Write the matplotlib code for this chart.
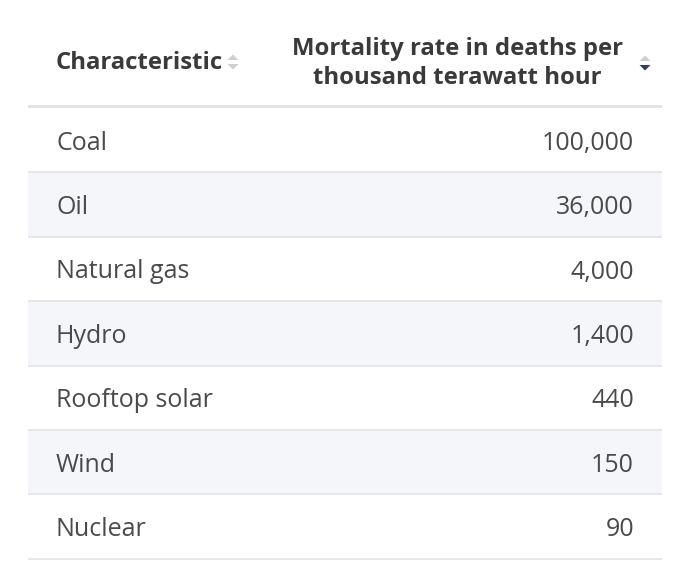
import matplotlib
matplotlib.use("Agg")
import matplotlib.pyplot as plt
from matplotlib.patches import Rectangle, Polygon

categories = ["Coal", "Oil", "Natural gas", "Hydro", "Rooftop solar", "Wind", "Nuclear"]
values = [100000, 36000, 4000, 1400, 440, 150, 90]
col_headers = ["Characteristic", "Mortality rate in deaths per\nthousand terawatt hour"]

W, H = 690, 587
fig = plt.figure(figsize=(W / 100, H / 100), dpi=100)
ax = fig.add_axes([0, 0, 1, 1])
ax.set_xlim(0, W)
ax.set_ylim(H, 0)
ax.axis("off")

FONT = "Open Sans"
text_c = "#4a4a4a"
head_c = "#3a3a3a"
left, right = 28, 662
top = 108
row_h = 64.4

# header
ax.text(56, 63, col_headers[0], fontsize=17.2, fontweight="bold", color=head_c,
        family=FONT, va="center", ha="left")
ax.text(457, 63.5, col_headers[1], fontsize=17.2, fontweight="bold", color=head_c,
        family=FONT, va="center", ha="center", linespacing=1.24)

def sort_icon(x, y, up_c, down_c):
    ax.add_patch(Polygon([[x - 5.5, y - 2], [x + 5.5, y - 2], [x, y - 7.5]], closed=True, color=up_c, lw=0))
    ax.add_patch(Polygon([[x - 5.5, y + 2], [x + 5.5, y + 2], [x, y + 7.5]], closed=True, color=down_c, lw=0))

sort_icon(233, 62, "#cfcfcf", "#cfcfcf")
sort_icon(645, 63, "#cfcfcf", "#343e5c")

ax.add_patch(Rectangle((left, top - 3), right - left, 3, color="#e3e3e6", lw=0))

for i, (cat, val) in enumerate(zip(categories, values)):
    y0 = top + i * row_h
    if i % 2 == 1:
        ax.add_patch(Rectangle((left, y0), right - left, row_h, color="#f5f6fa", lw=0))
    ax.plot([left, right], [y0 + row_h, y0 + row_h], color="#e3e3e6", lw=1.2, solid_capstyle="butt")
    yc = y0 + row_h / 2 + 3
    ax.text(56, yc, cat, fontsize=18, color=text_c, family=FONT, va="center", ha="left")
    ax.text(634, yc, f"{val:,}", fontsize=18, color=text_c, family=FONT, va="center", ha="right")

fig.savefig("out.png", dpi=100, facecolor="white")
